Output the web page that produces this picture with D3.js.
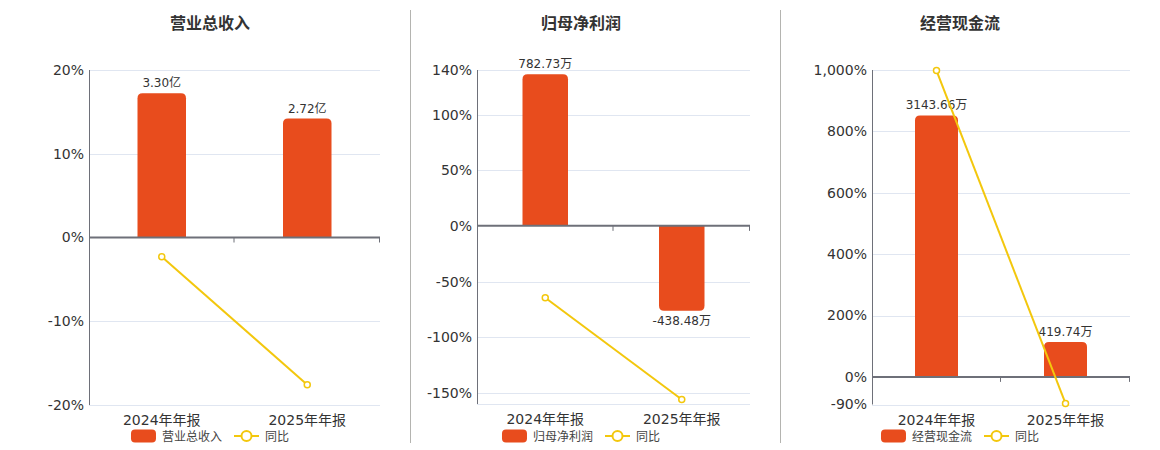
<!DOCTYPE html>
<html>
<head>
<meta charset="utf-8">
<script src="https://cdn.jsdelivr.net/npm/d3@7/dist/d3.min.js"></script>
<style>
  html, body { margin: 0; padding: 0; background: #fff; }
  svg { display: block; font-family: "DejaVu Sans", "Noto Sans CJK SC", sans-serif; }
</style>
</head>
<body>
<svg id="chart" width="1160" height="450"></svg>
<script>
// ---------------- data ----------------
const categories = ["2024年年报", "2025年年报"];

const titles = ["营业总收入", "归母净利润", "经营现金流"];
const yoyName = "同比";

const revenueValues = [3.30, 2.72];           // 亿
const revenueYoY = [-2.3, -17.58];            // %
const revenueTicks = [20, 10, 0, -10, -20];
const revenueDomain = [-20, 20];
const revenueBarTop = 3.83;                   // hidden bar axis value at top

const profitValues = [782.73, -438.48];       // 万
const profitYoY = [-64.5, -156.02];
const profitTicks = [140, 100, 50, 0, -50, -100, -150];
const profitDomain = [-160, 140];
const profitBarTop = 805;

const cashValues = [3143.66, 419.74];         // 万
const cashYoY = [998, -86.65];
const cashTicks = [1000, 800, 600, 400, 200, 0, -90];
const cashDomain = [-90, 1000];
const cashBarTop = 3690;

const units = ["亿", "万", "万"];

// ---------------- layout / style ----------------
const BAR_COLOR = "#e84c1d";
const LINE_COLOR = "#f3c70d";
const AXIS_COLOR = "#6e7079";
const GRID_COLOR = "#e0e6f1";
const TEXT_COLOR = "#333";

const hyphen = f => (d => f(d).replace("\u2212", "-"));

const panels = [
  { left: 89,  right: 380,  top: 70, bottom: 405, titleX: 210,
    values: revenueValues, yoy: revenueYoY, ticks: revenueTicks, domain: revenueDomain, barTop: revenueBarTop, fmt: hyphen(d3.format("")) },
  { left: 477, right: 750,  top: 70, bottom: 404, titleX: 581,
    values: profitValues, yoy: profitYoY, ticks: profitTicks, domain: profitDomain, barTop: profitBarTop, fmt: hyphen(d3.format("")) },
  { left: 872, right: 1130, top: 70, bottom: 404.5, titleX: 960,
    values: cashValues, yoy: cashYoY, ticks: cashTicks, domain: cashDomain, barTop: cashBarTop, fmt: hyphen(d3.format(",")) }
];

const svg = d3.select("#chart");

// separators
[410.5, 780.5].forEach(x => {
  svg.append("line").attr("x1", x).attr("x2", x).attr("y1", 10).attr("y2", 443)
    .attr("stroke", "#b4b4b0").attr("stroke-width", 1);
});

function barPath(x, w, y0, y1, r) {
  const h = Math.abs(y1 - y0);
  r = Math.min(r, h, w / 2);
  if (y1 < y0) {
    return `M${x},${y0} L${x},${y1 + r} Q${x},${y1} ${x + r},${y1} L${x + w - r},${y1} Q${x + w},${y1} ${x + w},${y1 + r} L${x + w},${y0} Z`;
  } else {
    return `M${x},${y0} L${x},${y1 - r} Q${x},${y1} ${x + r},${y1} L${x + w - r},${y1} Q${x + w},${y1} ${x + w},${y1 - r} L${x + w},${y0} Z`;
  }
}

panels.forEach((p, i) => {
  const g = svg.append("g");
  const y = d3.scaleLinear().domain(p.domain).range([p.bottom, p.top]);
  const x = d3.scaleBand().domain(categories).range([p.left, p.right]).paddingInner(0).paddingOuter(0);
  const yBar = d3.scaleLinear().domain([0, p.barTop]).range([y(0), p.top]);
  const bw = x.bandwidth() / 3;

  // title
  g.append("text").attr("x", p.titleX).attr("y", 29)
    .attr("text-anchor", "middle").attr("font-size", 16).attr("font-weight", "bold")
    .attr("fill", TEXT_COLOR).text(titles[i]);

  // gridlines
  const gridVals = Array.from(new Set([...p.ticks, p.domain[0]]));
  g.selectAll(".grid").data(gridVals.filter(v => v !== 0)).enter().append("line")
    .attr("x1", p.left).attr("x2", p.right)
    .attr("y1", d => Math.round(y(d)) + 0.5).attr("y2", d => Math.round(y(d)) + 0.5)
    .attr("stroke", GRID_COLOR).attr("stroke-width", 1);

  // y axis labels
  const yAxis = d3.axisLeft(y).tickValues(p.ticks).tickSize(0).tickPadding(5)
    .tickFormat(d => p.fmt(d) + "%");
  const ya = g.append("g").attr("transform", `translate(${p.left},0)`).call(yAxis);
  ya.select(".domain").remove();
  ya.selectAll("text").attr("font-size", 14).attr("fill", TEXT_COLOR)
    .attr("font-family", "DejaVu Sans, Noto Sans CJK SC, sans-serif");

  // left axis line
  g.append("line").attr("x1", p.left + 0.5).attr("x2", p.left + 0.5)
    .attr("y1", p.top).attr("y2", p.bottom).attr("stroke", AXIS_COLOR).attr("stroke-width", 1);

  // bars
  g.selectAll(".bar").data(p.values).enter().append("path")
    .attr("d", (d, j) => barPath(x(categories[j]) + (x.bandwidth() - bw) / 2, bw, yBar(0), yBar(d), 5))
    .attr("fill", BAR_COLOR);

  // bar labels
  g.selectAll(".blabel").data(p.values).enter().append("text")
    .attr("x", (d, j) => x(categories[j]) + x.bandwidth() / 2)
    .attr("y", d => d >= 0 ? yBar(d) - 6 : yBar(d) + 14)
    .attr("text-anchor", "middle").attr("font-size", 12).attr("fill", TEXT_COLOR)
    .text(d => d.toFixed(2) + units[i]);

  // zero axis line with category ticks
  const zy = y(0);
  g.append("line").attr("x1", p.left).attr("x2", p.right).attr("y1", zy).attr("y2", zy)
    .attr("stroke", AXIS_COLOR).attr("stroke-width", 2);
  [p.left + x.bandwidth(), p.right].forEach(tx => {
    g.append("line").attr("x1", tx - 0.5).attr("x2", tx - 0.5).attr("y1", zy).attr("y2", zy + 5)
      .attr("stroke", AXIS_COLOR).attr("stroke-width", 1);
  });

  // x category labels (via axis)
  const xAxis = d3.axisBottom(x).tickSize(0).tickPadding(0);
  const xa = g.append("g").attr("transform", `translate(0,${p.bottom})`).call(xAxis);
  xa.select(".domain").remove();
  xa.selectAll(".tick text").attr("dy", null).attr("y", 20)
    .attr("font-size", 14).attr("fill", TEXT_COLOR)
    .attr("font-family", "DejaVu Sans, Noto Sans CJK SC, sans-serif");

  // yoy line
  const line = d3.line().x((d, j) => x(categories[j]) + x.bandwidth() / 2).y(d => y(d));
  g.append("path").datum(p.yoy).attr("d", line).attr("fill", "none")
    .attr("stroke", LINE_COLOR).attr("stroke-width", 2);
  g.selectAll(".pt").data(p.yoy).enter().append("circle")
    .attr("cx", (d, j) => x(categories[j]) + x.bandwidth() / 2).attr("cy", d => y(d))
    .attr("r", 3).attr("fill", "#fff").attr("stroke", LINE_COLOR).attr("stroke-width", 1.5);

  // legend
  const lg = g.append("g");
  const t1 = lg.append("text").attr("font-size", 12).attr("fill", "#444").text(titles[i]);
  const t2 = lg.append("text").attr("font-size", 12).attr("fill", "#444").text(yoyName);
  const w1 = t1.node().getComputedTextLength();
  const w2 = t2.node().getComputedTextLength();
  const total = 25 + 6 + w1 + 12 + 25 + 6 + w2;
  const sx = p.titleX - total / 2;
  const ly = 436;
  lg.append("rect").attr("x", sx).attr("y", ly - 6.5).attr("width", 25).attr("height", 13)
    .attr("rx", 4).attr("fill", BAR_COLOR);
  t1.attr("x", sx + 31).attr("y", ly + 4.5);
  const lx = sx + 31 + w1 + 12;
  lg.append("line").attr("x1", lx).attr("x2", lx + 25).attr("y1", ly).attr("y2", ly)
    .attr("stroke", LINE_COLOR).attr("stroke-width", 2);
  lg.append("circle").attr("cx", lx + 12.5).attr("cy", ly).attr("r", 5)
    .attr("fill", "#fff").attr("stroke", LINE_COLOR).attr("stroke-width", 2);
  t2.attr("x", lx + 31).attr("y", ly + 4.5);
});
</script>
</body>
</html>
